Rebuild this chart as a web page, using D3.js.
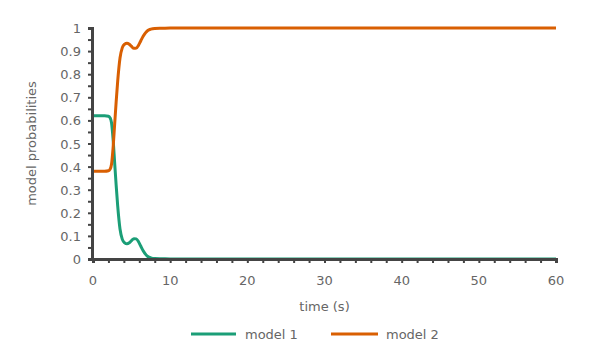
<!DOCTYPE html>
<html><head><meta charset="utf-8">
<script src="https://cdn.jsdelivr.net/npm/d3@7"></script>
<style>body{margin:0;background:#fff}svg{display:block}text{font-family:"DejaVu Sans",Verdana,sans-serif}</style>
</head><body><svg id="c" width="590" height="358"></svg>
<script>
const time   = [0,0.5,1,1.5,2,2.2,2.4,2.6,2.8,3.0,3.2,3.5,3.8,4.1,4.4,4.7,5.0,5.3,5.6,5.9,6.2,6.5,6.8,7.1,7.5,8,9,10,12,15,20,30,40,50,60];
const model1 = [0.62,0.62,0.62,0.62,0.618,0.612,0.59,0.52,0.42,0.32,0.23,0.13,0.085,0.07,0.066,0.07,0.08,0.088,0.087,0.075,0.055,0.036,0.021,0.011,0.005,0.002,0.001,0,0,0,0,0,0,0,0];
const model2 = model1.map(v => 1 - v);
const seriesNames = ["model 1","model 2"];
const colors = ["#1b9e77","#d95f02"];
const xTicks = [0,10,20,30,40,50,60];
const yTicks = [0,0.1,0.2,0.3,0.4,0.5,0.6,0.7,0.8,0.9,1];

const svg = d3.select("#c");
const x = d3.scaleLinear().domain([0,60]).range([93,556]);
const y = d3.scaleLinear().domain([0,1]).range([259,28]);
const grey = "#666";

const line = d3.line().x((d,i)=>x(time[i])).y(d=>y(d)).curve(d3.curveMonotoneX);
[model1,model2].forEach((s,k)=>{
  svg.append("path").attr("d",line(s)).attr("fill","none")
    .attr("stroke",colors[k]).attr("stroke-width",3);
});

const gx = svg.append("g").attr("transform","translate(0,259)");
gx.call(d3.axisBottom(x).tickValues(d3.range(0,61,2)).tickSize(4).tickFormat(""));
const gy = svg.append("g").attr("transform","translate(92,0)");
gy.call(d3.axisLeft(y).tickValues(d3.range(0,1.001,0.05)).tickSize(4).tickFormat(""));
[gx,gy].forEach(g=>{g.selectAll("line").attr("stroke","#444").attr("stroke-width",2);g.select(".domain").attr("stroke","#444").attr("stroke-width",3);});

svg.append("g").selectAll("text").data(xTicks).join("text")
  .attr("x",d=>x(d)).attr("y",285).attr("text-anchor","middle")
  .attr("font-size",13).attr("fill",grey).text(d=>d);
svg.append("g").selectAll("text").data(yTicks).join("text")
  .attr("x",81).attr("y",d=>y(d)+5).attr("text-anchor","end")
  .attr("font-size",13).attr("fill",grey).text(d=>d);

svg.append("text").attr("x",x(30)).attr("y",311).attr("text-anchor","middle")
  .attr("font-size",13).attr("fill",grey).text("time (s)");
svg.append("text").attr("transform","translate(36,"+y(0.5)+") rotate(-90)")
  .attr("text-anchor","middle").attr("font-size",13).attr("fill",grey).text("model probabilities");

const lg = [{x1:191,x2:236,tx:245},{x1:331,x2:378,tx:386}];
lg.forEach((p,k)=>{
  svg.append("line").attr("x1",p.x1).attr("x2",p.x2).attr("y1",334).attr("y2",334)
    .attr("stroke",colors[k]).attr("stroke-width",3);
  svg.append("text").attr("x",p.tx).attr("y",339).attr("font-size",13).attr("fill",grey).text(seriesNames[k]);
});
</script></body></html>
